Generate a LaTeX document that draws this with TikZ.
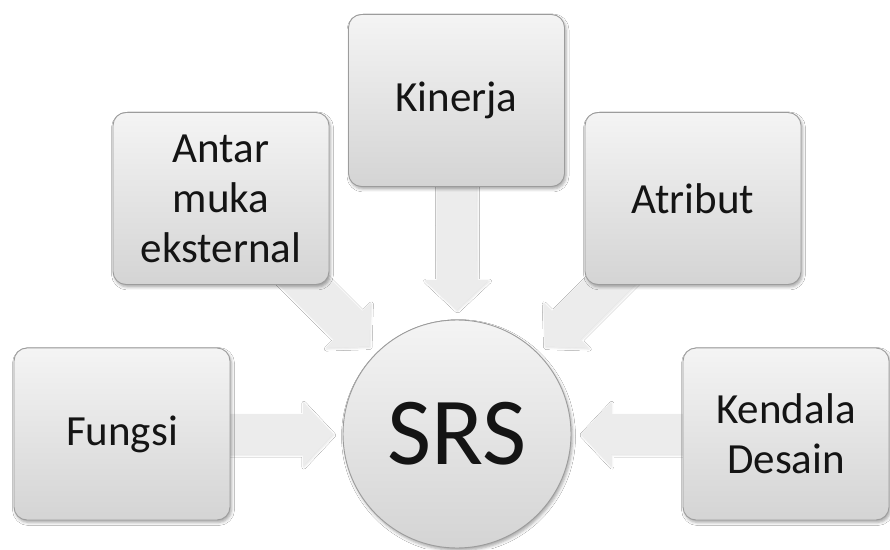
\documentclass[tikz,border=0pt]{standalone}
\usepackage{fontspec}
\setmainfont{Carlito}
\usetikzlibrary{calc,shadows.blur}

\definecolor{boxtop}{HTML}{F4F4F4}
\definecolor{boxbot}{HTML}{D4D4D4}
\definecolor{boxline}{HTML}{9C9C9C}
\definecolor{arrowfill}{HTML}{ECECEC}
\definecolor{inktext}{HTML}{141414}

\tikzset{
  panel/.style={rectangle, rounded corners=13pt, draw=boxline, line width=0.9pt,
    top color=boxtop, bottom color=boxbot, minimum width=216pt, minimum height=172pt,
    inner sep=0pt, align=center, text=inktext,
    font=\fontsize{43}{50}\selectfont,
    blur shadow={shadow xshift=1.5pt, shadow yshift=-2.5pt, shadow blur radius=3pt, shadow opacity=35}},
  hub/.style={circle, draw=boxline, line width=0.9pt,
    top color=boxtop, bottom color=boxbot, minimum size=228pt, inner sep=0pt,
    text=inktext, font=\fontsize{96}{96}\selectfont,
    blur shadow={shadow xshift=1.5pt, shadow yshift=-2.5pt, shadow blur radius=3pt, shadow opacity=35}},
  flow/.style={fill=arrowfill, draw=none,
    blur shadow={shadow xshift=0.8pt, shadow yshift=-1.2pt, shadow blur radius=2pt, shadow opacity=12}},
}

% Block arrow running from the centre of a panel to just short of the hub
\newcommand\srsarrow[1]{%
  \coordinate (tip-#1) at ($(hubc)!124pt!(#1.center)$);
  \coordinate (base-#1) at ($(tip-#1)!30pt!(#1.center)$);
  \fill[flow] ($(#1.center)!20pt!90:(tip-#1)$)
    -- ($(base-#1)!20pt!90:(tip-#1)$)
    -- ($(base-#1)!32pt!90:(tip-#1)$)
    -- (tip-#1)
    -- ($(base-#1)!32pt!-90:(tip-#1)$)
    -- ($(base-#1)!20pt!-90:(tip-#1)$)
    -- ($(#1.center)!20pt!-90:(tip-#1)$) -- cycle;
}

\begin{document}
\begin{tikzpicture}[x=1pt,y=1pt]
  \fill[white] (0,0) rectangle (890,549);
  \useasboundingbox (0,0) rectangle (890,549);

  % centres of the hub and the five requirement panels
  \coordinate (hubc) at (457,115);
  \coordinate (fungsi) at (122,115);
  \coordinate (antar) at (221,350.5);
  \coordinate (kinerja) at (456.5,448.5);
  \coordinate (atribut) at (693,350.5);
  \coordinate (kendala) at (786,115);

  % arrows sit underneath the panels
  \srsarrow{fungsi}
  \srsarrow{antar}
  \srsarrow{kinerja}
  \srsarrow{atribut}
  \srsarrow{kendala}

  \node[panel] (p-fungsi) at (fungsi) {Fungsi};
  \node[panel] (p-antar) at (antar) {Antar\\muka\\eksternal};
  \node[panel] (p-kinerja) at (kinerja) {Kinerja};
  \node[panel] (p-atribut) at (atribut) {Atribut};
  \node[panel, minimum width=206pt] (p-kendala) at (kendala) {Kendala\\Desain};

  \node[hub] (srs) at (hubc) {SRS};
\end{tikzpicture}
\end{document}
